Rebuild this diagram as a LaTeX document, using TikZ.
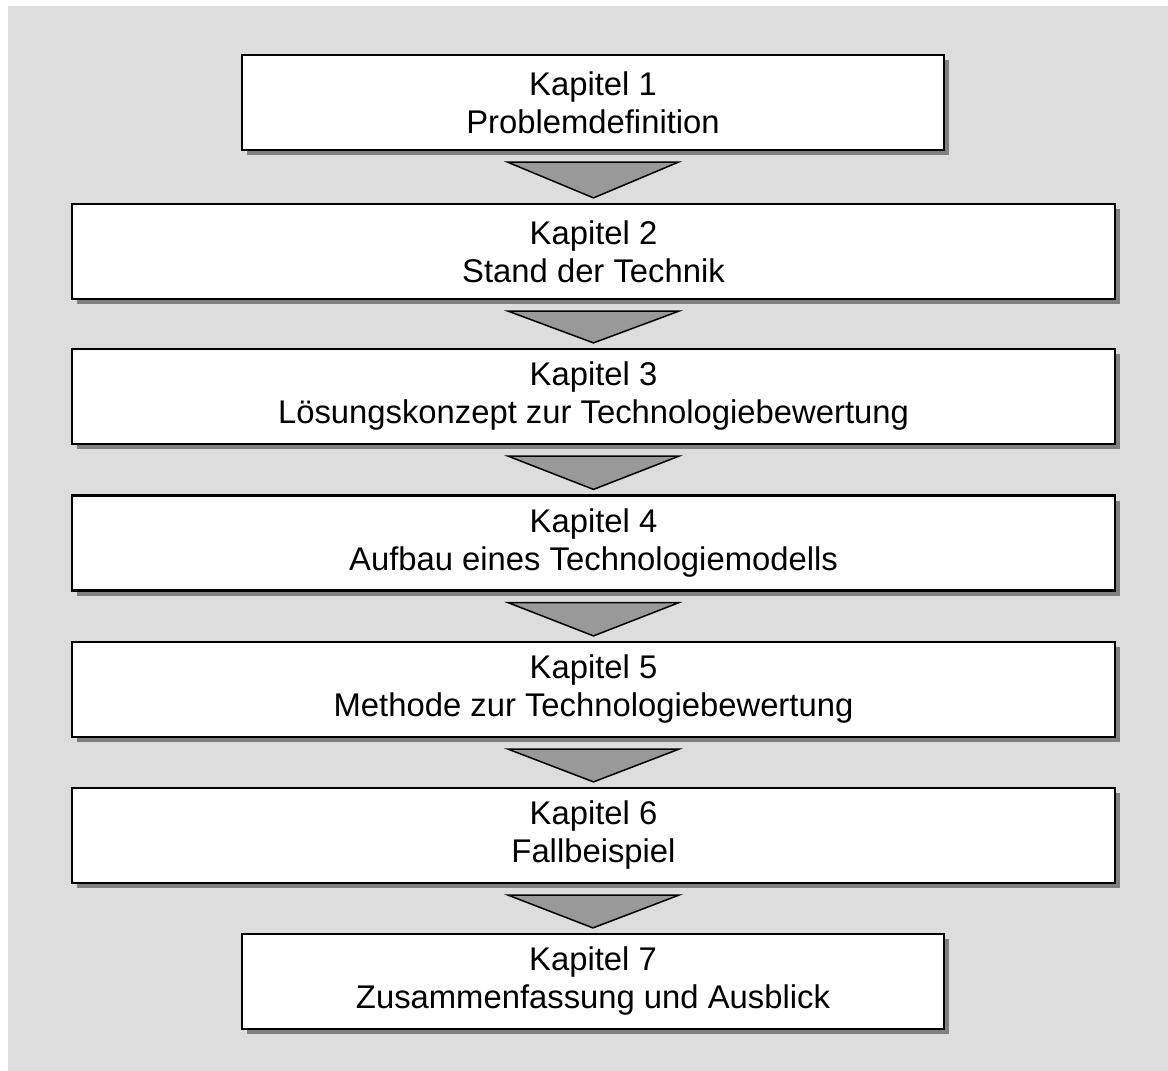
\documentclass[tikz,border=0pt]{standalone}
\usepackage{fontspec}
\setmainfont{Liberation Sans}
\usetikzlibrary{calc,shadows}
\definecolor{panelgray}{HTML}{DDDDDD}
\definecolor{shadowgray}{HTML}{808080}
\definecolor{arrowgray}{HTML}{999999}
\tikzset{
  chapterbox/.style={draw=black, line width=2.2pt, fill=white, rectangle,
    minimum height=95pt, inner sep=0pt, align=center,
    font=\fontsize{32.8}{38}\selectfont,
    drop shadow={shadow xshift=5pt, shadow yshift=-5pt, fill=shadowgray, opacity=1}},
  flowtri/.style={draw=black, line width=1.5pt, fill=arrowgray, line join=miter},
}
\begin{document}
\begin{tikzpicture}[x=1pt,y=-1pt]
  \useasboundingbox (0,0) rectangle (1168,1071);
  % grey panel
  \fill[panelgray] (8,6) rectangle (1168,1071);

  % chapter boxes
  \node[chapterbox, minimum width=702pt]  (b1) at (593,102.5)  {Kapitel 1\\Problemdefinition};
  \node[chapterbox, minimum width=1043pt] (b2) at (593.5,251.5) {Kapitel 2\\Stand der Technik};
  \node[chapterbox, minimum width=1043pt] (b3) at (593.5,396.5) {Kapitel 3\\Lösungskonzept zur Technologiebewertung};
  \node[chapterbox, minimum width=1043pt] (b4) at (593.5,543)   {Kapitel 4\\Aufbau eines Technologiemodells};
  \node[chapterbox, minimum width=1043pt] (b5) at (593.5,689.5) {Kapitel 5\\Methode zur Technologiebewertung};
  \node[chapterbox, minimum width=1043pt] (b6) at (593.5,835.5) {Kapitel 6\\Fallbeispiel};
  \node[chapterbox, minimum width=702pt]  (b7) at (593,981.5)  {Kapitel 7\\Zusammenfassung und Ausblick};

  % downward triangles between consecutive chapters
  \foreach \a/\b in {b1/b2, b2/b3, b3/b4, b4/b5, b5/b6, b6/b7} {
    \draw[flowtri] ($(\a.south)+(-85.5,11)$) -- ($(\a.south)+(85.5,11)$)
      -- ($(\b.north)+(0,-5)$) -- cycle;
  }
\end{tikzpicture}
\end{document}
